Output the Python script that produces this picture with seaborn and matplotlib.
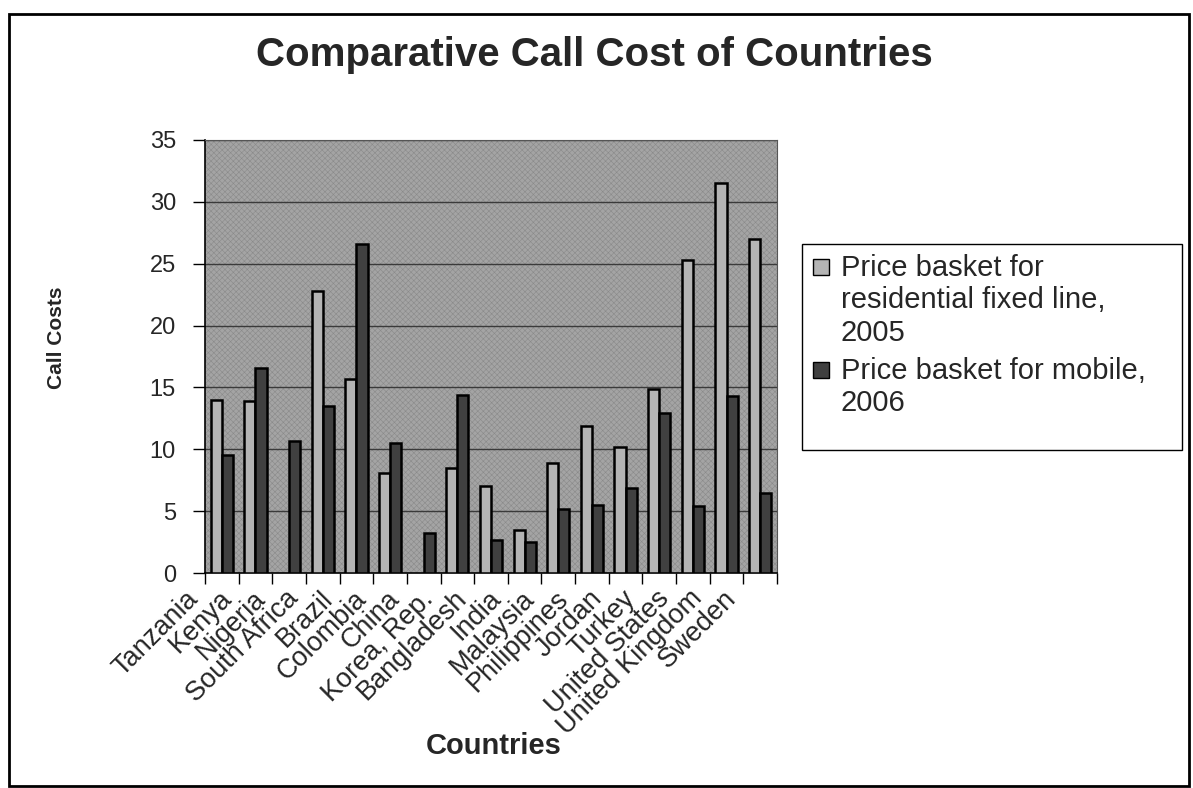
import numpy as np
import pandas as pd
import matplotlib
matplotlib.use("Agg")
import matplotlib.pyplot as plt
import matplotlib.transforms as mtransforms
from matplotlib.patches import Rectangle
from matplotlib.ticker import FixedLocator
import seaborn as sns

countries = ["Tanzania", "Kenya", "Nigeria", "South Africa", "Brazil", "Colombia",
             "China", "Korea, Rep.", "Bangladesh", "India", "Malaysia", "Philippines",
             "Jordan", "Turkey", "United States", "United Kingdom", "Sweden"]
fixed_2005 = [14.0, 13.9, np.nan, 22.8, 15.7, 8.1, np.nan, 8.5, 7.0, 3.5, 8.9,
              11.9, 10.2, 14.9, 25.3, 31.5, 27.0]
mobile_2006 = [9.5, 16.6, 10.7, 13.5, 26.6, 10.5, 3.2, 14.4, 2.7, 2.5, 5.2,
               5.5, 6.9, 12.9, 5.4, 14.3, 6.5]
series_names = ["Price basket for\nresidential fixed line,\n2005",
                "Price basket for mobile,\n2006"]
series_colors = ["#b4b4b4", "#404040"]
y_ticks = [0, 5, 10, 15, 20, 25, 30, 35]

df = pd.DataFrame({
    "Country": countries * 2,
    "Series": [series_names[0]] * len(countries) + [series_names[1]] * len(countries),
    "Cost": fixed_2005 + mobile_2006,
})

sns.set_theme(style="white")
plt.rcParams["font.family"] = ["Liberation Sans", "DejaVu Sans"]
plt.rcParams["hatch.linewidth"] = 0.4

W, H = 1193, 788
fig = plt.figure(figsize=(W / 100, H / 100), dpi=100)
ax = fig.add_axes([205 / W, 1 - 573 / H, 572 / W, 433 / H])

# plot-area fill with a fine stipple texture
ax.set_facecolor("#a4a4a4")
ax.add_patch(Rectangle((0, 0), 1, 1, transform=ax.transAxes, facecolor="none",
                       edgecolor="#8a8a8a", hatch="xxxxxx", linewidth=0, zorder=0))

for y in y_ticks[1:]:
    ax.axhline(y, color="#3a3a3a", linewidth=1.0, zorder=1)

sns.barplot(data=df, x="Country", y="Cost", hue="Series", order=countries,
            hue_order=series_names, palette=series_colors,
            edgecolor="black", linewidth=1.8, width=0.66, ax=ax, zorder=3)

ax.set_ylim(0, 35)
ax.set_xlim(-0.5, len(countries) - 0.5)
ax.set_yticks(y_ticks)
ax.set_yticklabels([str(v) for v in y_ticks], fontsize=17)
ax.set_xticks(range(len(countries)))
ax.set_xticklabels(countries, rotation=45, ha="right", va="top",
                   rotation_mode="anchor", fontsize=19.5)
ax.xaxis.set_minor_locator(FixedLocator(np.arange(-0.5, len(countries), 1.0)))
ax.tick_params(axis="x", which="major", length=0, pad=9)
ax.tick_params(axis="x", which="minor", length=8, width=1, color="black",
               direction="out", bottom=True)
ax.tick_params(axis="y", length=9, width=1, color="black", direction="out",
               left=True, pad=12)

# category labels sit a little left of their bar pairs
for lab in ax.get_xticklabels():
    lab.set_transform(lab.get_transform() +
                      mtransforms.ScaledTranslation(-0.37, 0, fig.dpi_scale_trans))

for side in ["top", "right"]:
    ax.spines[side].set_color("#555555")
    ax.spines[side].set_linewidth(0.8)
for side in ["left", "bottom"]:
    ax.spines[side].set_color("black")
    ax.spines[side].set_linewidth(1.2)

ax.set_xlabel("")
ax.set_ylabel("")
ax.get_legend().remove()

fig.text(594 / W, 1 - 55 / H, "Comparative Call Cost of Countries",
         ha="center", va="center", fontsize=29, fontweight="bold")
fig.text(57 / W, 1 - 338 / H, "Call Costs", rotation=90, ha="center",
         va="center", fontsize=15, fontweight="bold")
fig.text(494 / W, 1 - 746 / H, "Countries", ha="center", va="center",
         fontsize=21, fontweight="bold")

# legend box with swatches aligned to the first line of each entry
fig.patches.append(Rectangle((802 / W, 1 - 450 / H), 380 / W, 206 / H,
                             transform=fig.transFigure, facecolor="white",
                             edgecolor="black", linewidth=1.0, zorder=1))
entry_tops = [254, 357]
for name, color, top in zip(series_names, series_colors, entry_tops):
    fig.patches.append(Rectangle((813 / W, 1 - (top + 21) / H), 16 / W, 16 / H,
                                 transform=fig.transFigure, facecolor=color,
                                 edgecolor="black", linewidth=1.0, zorder=2))
    fig.text(841 / W, 1 - top / H, name, ha="left", va="top", fontsize=21,
             linespacing=1.2, zorder=3)

# outer frame
fig.patches.append(Rectangle((9 / W, 1 - 786 / H), 1180 / W, 772 / H,
                             transform=fig.transFigure, facecolor="none",
                             edgecolor="black", linewidth=2.0))

fig.savefig("out.png", dpi=100)
